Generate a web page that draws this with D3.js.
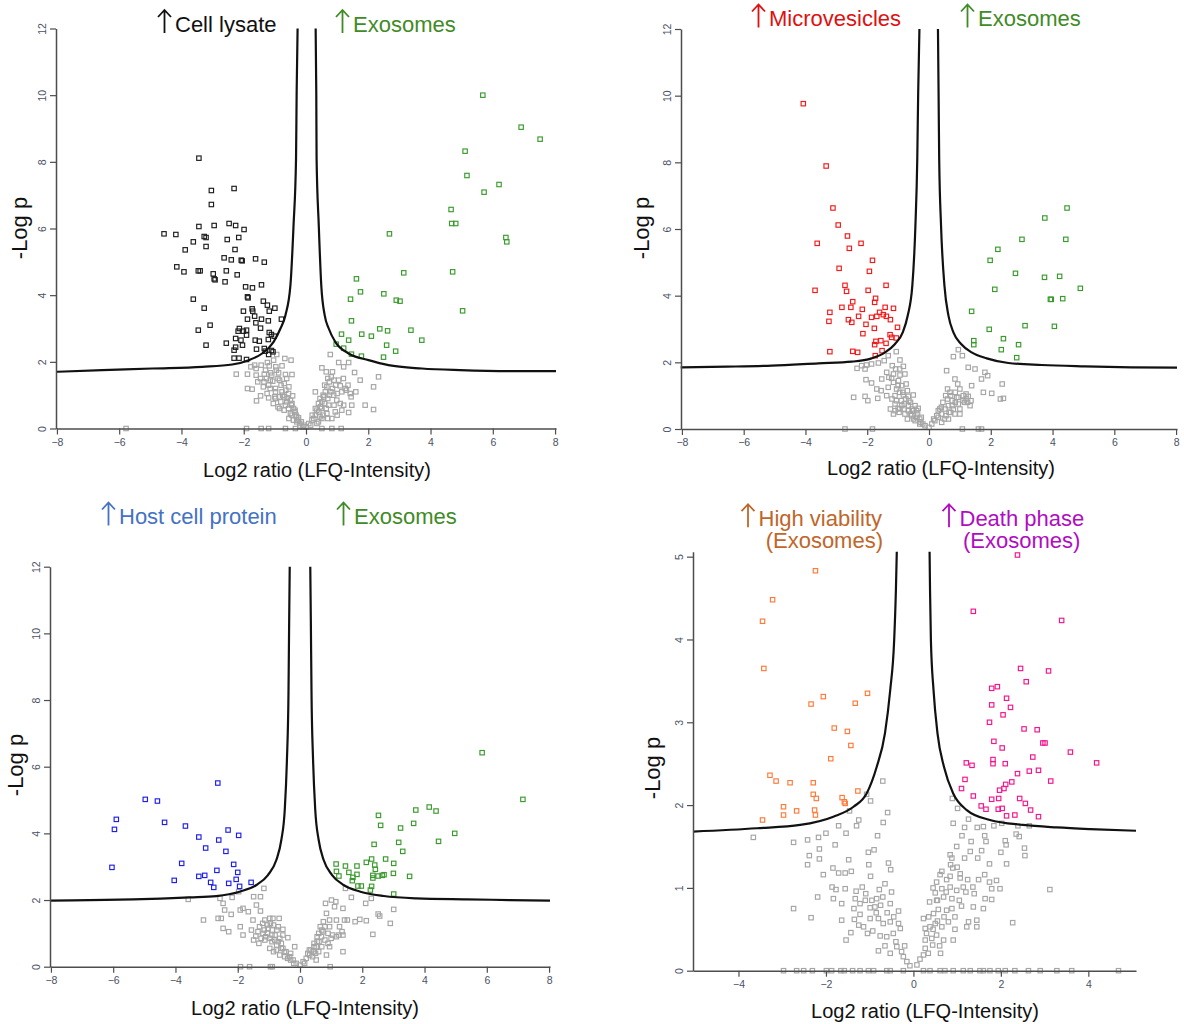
<!DOCTYPE html>
<html>
<head>
<meta charset="utf-8">
<script src="https://cdn.jsdelivr.net/npm/d3@7"></script>
<style>
  body { margin: 0; background: #fff; }
  svg { display: block; }
  text { font-family: "Liberation Sans", Arial, sans-serif; }
</style>
</head>
<body>
<script>
var w = 1184;
var h = 1024;

// tick values
var xTicks8 = [-8, -6, -4, -2, 0, 2, 4, 6, 8];
var yTicks12 = [0, 2, 4, 6, 8, 10, 12];
var xTicks4 = [-4, -2, 0, 2, 4];
var yTicks5 = [0, 1, 2, 3, 4, 5];

// labels
var panelTitles = [["Cell lysate", "Exosomes"], ["Microvesicles", "Exosomes"], ["Host cell protein", "Exosomes"], ["High viability", "Death phase"]];
var subTitle = "(Exosomes)";
var xLabel = "Log2 ratio (LFQ-Intensity)";
var yLabel = "-Log p";

// ---- panel 1: cell lysate vs exosomes ----
var p1CurveL = [[-8.03,1.70],[-6.54,1.75],[-4.94,1.80],[-3.33,1.85],[-2.37,1.92],[-1.84,2.05],[-1.41,2.25],[-1.04,2.6],[-0.82,3.0],[-0.66,3.4],[-0.50,4.3],[-0.40,6.1],[-0.32,8.1],[-0.30,10.1],[-0.27,12]];
var p1CurveR = [[0.31,12],[0.33,10.1],[0.34,8.1],[0.41,6.1],[0.49,4.3],[0.60,3.4],[0.73,3.0],[0.94,2.6],[1.37,2.25],[2.01,2.05],[2.65,1.90],[3.72,1.80],[4.95,1.75],[6.60,1.72],[8.03,1.72]];
var p1Down = [[-3.44,8.11],[-3.04,7.14],[-2.31,7.20],[-3.04,6.72],[-3.44,6.06],[-2.95,6.09],[-2.47,6.15],[-2.26,6.09],[-1.99,5.97],[-4.56,5.84],[-4.18,5.82],[-3.27,5.76],[-3.21,5.73],[-2.53,5.67],[-2.16,5.73],[-3.62,5.60],[-3.21,5.46],[-3.88,5.36],[-2.28,5.37],[-2.63,5.12],[-2.40,5.06],[-2.08,5.05],[-2.05,5.03],[-1.62,5.09],[-1.34,4.99],[-4.15,4.85],[-3.92,4.70],[-3.46,4.73],[-3.40,4.73],[-2.98,4.64],[-2.56,4.73],[-2.21,4.61],[-2.95,4.49],[-2.92,4.46],[-2.60,4.40],[-1.94,4.25],[-1.72,4.22],[-1.43,4.31],[-1.88,3.95],[-1.86,3.92],[-3.62,3.88],[-1.37,3.82],[-3.27,3.61],[-1.73,3.59],[-1.71,3.52],[-1.24,3.70],[-1.18,3.52],[-1.00,3.61],[-2.01,3.52],[-1.65,3.37],[-1.88,3.28],[-1.43,3.28],[-1.21,3.23],[-0.79,3.28],[-1.61,3.17],[-3.08,3.10],[-3.46,2.95],[-2.14,3.00],[-1.91,2.95],[-1.46,3.01],[-2.18,2.92],[-2.01,2.92],[-1.18,2.88],[-1.11,2.82],[-1.91,2.80],[-1.02,2.77],[-2.26,2.70],[-2.09,2.65],[-1.63,2.65],[-1.50,2.62],[-1.21,2.67],[-2.56,2.56],[-3.21,2.50],[-2.26,2.44],[-2.04,2.50],[-1.59,2.38],[-1.34,2.40],[-2.31,2.35],[-1.31,2.32],[-1.11,2.34],[-2.31,2.11],[-2.15,2.11],[-1.91,2.07],[-1.06,2.30],[-1.20,2.22]];
var p1Up = [[5.68,10.0],[6.91,9.04],[7.52,8.68],[5.11,8.32],[5.17,7.59],[6.20,7.32],[5.72,7.09],[4.66,6.57],[4.68,6.15],[4.81,6.15],[2.68,5.84],[6.42,5.73],[6.45,5.60],[3.14,4.67],[4.71,4.70],[1.62,4.49],[1.75,4.10],[2.50,4.04],[1.43,3.88],[2.90,3.85],[3.02,3.82],[5.03,3.53],[1.46,3.23],[1.14,2.83],[1.79,2.83],[2.37,2.99],[2.62,2.93],[3.37,2.95],[1.37,2.65],[2.10,2.77],[3.72,2.65],[0.97,2.53],[1.21,2.41],[2.59,2.50],[1.46,2.23],[1.78,2.17],[2.88,2.32],[2.49,2.14]];
var p1Gray = [[-0.94,2.22],[-0.68,2.10],[-1.04,2.05],[-1.24,1.98],[-1.44,1.90],[-1.65,1.90],[-1.77,1.85],[-1.60,1.80],[-1.18,1.88],[-0.97,1.85],[-0.77,1.88],[-0.48,2.05],[-2.24,1.63],[-1.88,1.63],[-1.34,1.63],[-1.14,1.67],[-0.88,1.67],[-0.66,1.62],[-0.45,1.62],[-1.46,1.50],[-1.27,1.50],[-1.07,1.42],[-0.85,1.45],[-0.62,1.50],[-1.88,1.20],[-1.73,1.18],[-1.37,1.25],[-1.20,1.30],[-0.98,1.20],[-0.77,1.10],[-0.56,1.05],[-0.43,0.98],[-1.59,0.83],[-1.46,0.98],[-1.20,0.92],[-0.98,0.90],[-0.81,0.80],[-0.62,0.80],[-0.47,0.70],[-0.56,0.60],[-0.36,0.50],[-0.32,0.40],[-0.24,0.32],[-0.15,0.20],[-0.07,0.10],[-0.98,1.10],[-0.69,0.95],[-0.66,0.70],[-0.50,0.45],[-0.9,1.5],[-0.8,1.3],[-0.75,1.0],[-0.6,0.9],[-0.55,1.25],[-0.5,0.85],[-0.45,0.75],[-0.4,0.6],[-0.35,0.55],[-0.3,0.35],[-0.25,0.25],[-0.2,0.15],[-1.1,1.6],[-1.3,1.75],[-0.95,1.75],[-1.0,0.95],[-0.85,0.6],[-1.55,1.4],[-1.35,1.4],[-1.15,1.2],[-1.25,1.05],[-1.05,0.75],[-0.9,0.65],[-0.7,0.55],[-0.55,0.3],[-0.4,0.25],[-0.65,1.15],[-0.7,1.35],[-0.85,0.95],[-1.15,1.45],[-1.6,1.6],[-0.45,0.4],[-0.3,0.2],[-0.2,0.08],[-0.1,0.05],[0,0.05],[0.09,0.15],[0.19,0.25],[0.30,0.40],[0.41,0.50],[0.46,0.65],[0.51,0.80],[0.57,0.95],[0.62,1.10],[0.67,1.25],[0.75,1.40],[0.81,1.55],[0.85,1.70],[0.51,1.82],[0.78,2.22],[1.05,1.98],[1.21,1.85],[1.37,1.98],[1.56,1.68],[1.74,1.45],[2.17,1.25],[2.33,1.55],[1.90,0.70],[2.17,0.57],[1.37,0.48],[1.47,0.70],[1.21,0.70],[1.10,1.28],[1.15,1.10],[1.26,1.20],[1.42,1.05],[0.99,0.85],[0.89,1.00],[0.73,0.70],[0.67,0.45],[0.51,0.30],[0.35,0.15],[0.30,1.10],[0.94,0.50],[0.83,0.30],[0.25,0.3],[0.35,0.55],[0.45,0.9],[0.55,1.0],[0.6,1.3],[0.7,1.5],[0.75,1.0],[0.85,1.2],[0.9,0.7],[1.0,1.05],[1.1,0.75],[1.3,1.15],[0.65,0.6],[0.55,0.4],[0.4,0.2],[0.15,0.1],[0.2,0.4],[0.3,0.6],[0.4,0.75],[0.5,0.6],[0.6,0.75],[0.7,0.9],[0.8,1.1],[0.95,1.3],[1.05,1.45],[1.2,1.5],[1.35,1.3],[1.45,0.95],[1.6,1.1],[0.65,1.7],[0.7,0.3],[0.45,0.35],[1.0,0.4],[1.15,0.55],[0.9,1.45],[-5.78,0],[-1.91,0],[-1.44,0],[-1.20,0],[-0.66,0],[-0.34,0],[0.51,0],[0.83,0],[1.13,0]];

// ---- panel 2: microvesicles vs exosomes ----
var p2CurveL = [[-8.04,1.85],[-6.55,1.87],[-5.09,1.90],[-3.58,1.97],[-2.50,2.02],[-1.86,2.12],[-1.42,2.30],[-1.10,2.55],[-0.85,2.9],[-0.69,3.4],[-0.54,4.3],[-0.44,6.1],[-0.38,8.1],[-0.35,10.1],[-0.31,12]];
var p2CurveR = [[0.29,12],[0.31,10.1],[0.33,8.1],[0.39,6.1],[0.50,4.3],[0.63,3.4],[0.79,2.9],[1.04,2.55],[1.38,2.30],[1.87,2.12],[2.57,1.98],[3.65,1.92],[5.05,1.88],[6.56,1.85],[8.03,1.84]];
var p2Down = [[-4.07,9.76],[-3.33,7.89],[-3.11,6.63],[-2.94,6.12],[-2.64,5.79],[-3.62,5.57],[-2.58,5.42],[-2.20,5.57],[-1.83,5.06],[-1.93,4.73],[-2.91,4.82],[-2.72,4.31],[-2.67,4.13],[-3.69,4.16],[-1.97,4.16],[-1.39,4.31],[-1.73,3.92],[-1.76,3.80],[-2.47,3.82],[-2.82,3.65],[-2.53,3.65],[-2.16,3.59],[-1.42,3.65],[-1.15,3.62],[-3.21,3.50],[-3.24,3.23],[-2.61,3.28],[-2.50,3.20],[-2.28,3.38],[-1.86,3.35],[-1.69,3.38],[-1.60,3.50],[-1.48,3.43],[-1.38,3.38],[-1.25,3.28],[-2.04,3.14],[-1.77,3.02],[-1.02,3.05],[-2.14,2.86],[-1.26,2.83],[-1.21,2.75],[-1.06,2.73],[-1.72,2.63],[-1.56,2.65],[-1.39,2.57],[-1.76,2.53],[-1.52,2.35],[-3.21,2.32],[-2.47,2.33],[-2.31,2.30],[-1.74,2.20]];
var p2Up = [[4.47,6.63],[3.75,6.33],[3.01,5.69],[4.43,5.69],[2.23,5.39],[1.98,5.06],[2.80,4.67],[3.74,4.55],[4.23,4.58],[4.90,4.22],[2.13,4.19],[3.93,3.89],[3.96,3.89],[4.33,3.91],[1.38,3.53],[3.11,3.10],[4.06,3.08],[1.95,2.99],[2.41,2.71],[1.45,2.65],[1.45,2.53],[2.90,2.53],[2.34,2.38],[2.84,2.14]];
var p2Gray = [[-1.06,2.32],[-1.32,2.20],[-0.94,2.07],[-1.45,2.05],[-1.64,1.98],[-1.86,1.95],[-2.02,1.92],[-2.18,1.90],[-2.33,1.82],[-2.07,1.80],[-1.19,1.90],[-1.08,1.80],[-0.83,1.88],[-1.37,1.70],[-1.15,1.65],[-0.94,1.62],[-0.78,1.65],[-1.53,1.50],[-1.21,1.52],[-0.99,1.45],[-2.04,1.48],[-1.86,1.38],[-1.69,1.20],[-1.55,1.15],[-1.32,1.25],[-1.05,1.20],[-0.88,1.30],[-0.74,1.35],[-2.44,0.95],[-2.07,0.98],[-1.98,0.85],[-1.66,0.92],[-1.37,1.00],[-1.10,1.00],[-0.83,1.02],[-0.67,0.98],[-0.51,1.02],[-1.10,0.75],[-0.88,0.70],[-0.67,0.70],[-0.45,0.70],[-1.15,0.45],[-0.97,0.50],[-0.78,0.45],[-0.56,0.40],[-0.37,0.45],[-0.45,0.25],[-0.26,0.20],[-0.13,0.10],[-0.67,0.55],[-0.35,0.62],[-0.9,0.85],[-0.75,0.9],[-0.6,0.8],[-0.55,0.6],[-0.8,0.6],[-1.0,0.62],[-0.5,0.3],[-0.3,0.3],[-0.7,1.15],[-0.95,1.1],[-1.25,0.6],[-1.1,0.55],[-0.95,0.6],[-0.8,0.75],[-0.65,0.85],[-0.5,0.55],[-0.4,0.35],[-0.25,0.35],[-0.2,0.15],[-1.05,0.85],[-1.2,0.9],[-0.85,1.1],[-0.6,0.45],[-0.7,0.3],[-1.0,1.3],[-1.3,1.55],[-0.95,1.8],[-1.15,1.4],[-0.4,0.55],[-0.3,0.15],[0.09,0.15],[0.19,0.25],[0.30,0.35],[0.41,0.45],[0.52,0.60],[0.63,0.70],[0.79,0.60],[0.95,0.75],[1.11,1.00],[1.27,0.98],[1.36,0.85],[1.33,0.70],[0.54,1.00],[0.68,1.10],[0.84,1.50],[0.93,1.35],[0.57,1.75],[0.79,2.17],[0.95,2.38],[1.08,2.20],[1.27,1.85],[1.49,1.80],[1.81,1.70],[1.90,1.60],[1.70,1.50],[1.38,1.30],[1.76,1.10],[2.03,1.07],[2.37,1.35],[2.41,0.92],[2.31,0.90],[0.63,0.30],[0.84,0.45],[1.00,0.45],[0.41,0.20],[0.25,0.4],[0.35,0.6],[0.45,0.8],[0.6,0.9],[0.7,0.5],[0.75,0.85],[0.9,0.95],[1.0,0.6],[1.15,0.8],[1.2,0.9],[0.5,0.3],[0.15,0.3],[0.3,0.55],[0.4,0.65],[0.55,0.4],[0.65,0.5],[0.75,0.7],[0.85,0.8],[0.95,0.95],[1.1,0.85],[1.25,0.8],[0.85,1.1],[1.0,1.2],[0.7,1.0],[0.6,1.2],[1.2,1.05],[1.08,0],[1.60,0],[1.70,0],[-2.72,0],[-1.83,0],[0,0.05]];

// ---- panel 3: host cell protein vs exosomes ----
var p3CurveL = [[-8.03,1.98],[-6.76,2.00],[-5.36,2.02],[-3.54,2.08],[-2.69,2.12],[-1.94,2.25],[-1.40,2.45],[-1.03,2.75],[-0.76,3.2],[-0.60,3.8],[-0.49,4.7],[-0.42,6.2],[-0.37,8.2],[-0.35,10.2],[-0.33,12]];
var p3CurveR = [[0.33,12],[0.35,10.2],[0.37,8.2],[0.42,6.2],[0.49,4.7],[0.60,3.8],[0.76,3.2],[1.03,2.75],[1.40,2.45],[1.94,2.25],[2.69,2.12],[3.74,2.05],[5.34,2.02],[6.73,2.00],[8.03,1.98]];
var p3Down = [[-2.64,5.51],[-4.97,5.02],[-4.58,4.97],[-5.90,4.42],[-5.96,4.12],[-4.35,4.33],[-3.68,4.22],[-3.25,3.89],[-2.31,4.10],[-1.97,3.94],[-2.61,3.80],[-3.03,3.56],[-2.38,3.46],[-6.04,2.98],[-3.80,3.10],[-2.13,3.07],[-2.67,2.89],[-2.00,2.83],[-3.25,2.71],[-3.06,2.74],[-4.04,2.59],[-2.05,2.62],[-2.87,2.53],[-2.29,2.50],[-1.57,2.53],[-1.94,2.41],[-2.77,2.38]];
var p3Up = [[5.85,6.42],[7.16,5.02],[4.15,4.79],[4.37,4.67],[3.72,4.70],[2.52,4.54],[2.59,4.24],[3.23,4.16],[3.65,4.30],[4.97,4.00],[4.45,3.76],[3.17,3.73],[2.38,3.67],[3.30,3.46],[2.30,3.23],[2.75,3.23],[2.13,3.13],[3.01,3.10],[1.16,3.08],[1.46,3.02],[1.83,3.02],[2.40,3.05],[2.42,2.92],[1.17,2.86],[1.25,2.72],[1.57,2.83],[1.83,2.77],[1.70,2.68],[2.34,2.74],[2.34,2.66],[2.51,2.72],[2.64,2.74],[2.70,2.76],[3.00,2.80],[3.52,2.71],[1.68,2.58],[1.86,2.42],[1.97,2.42],[2.30,2.41],[2.26,2.30],[3.01,2.18]];
var p3Gray = [[-3.59,2.02],[-3.10,1.40],[-2.57,2.05],[-2.47,1.90],[-2.42,1.70],[-2.63,1.45],[-2.53,1.45],[-2.47,1.15],[-2.29,1.05],[-2.21,1.57],[-2.18,2.08],[-1.97,2.25],[-1.92,1.70],[-1.83,1.75],[-1.66,1.65],[-1.92,1.20],[-1.83,0.95],[-1.51,1.40],[-1.56,1.10],[-1.49,2.10],[-1.40,1.85],[-1.27,2.10],[-1.27,1.67],[-1.16,2.35],[-1.30,1.20],[-1.13,1.40],[-0.97,1.45],[-0.87,1.45],[-0.67,1.45],[-1.42,0.92],[-1.19,1.00],[-1.03,1.15],[-0.89,1.10],[-0.74,1.10],[-0.55,1.12],[-1.49,0.80],[-1.32,0.70],[-1.13,0.80],[-0.97,0.85],[-0.81,0.80],[-0.65,0.85],[-0.39,0.87],[-0.17,0.60],[-0.97,0.55],[-0.76,0.50],[-0.55,0.55],[-0.65,0.35],[-0.49,0.30],[-0.33,0.30],[-0.22,0.20],[-0.12,0.10],[0,0.05],[-1.2,1.3],[-1.05,1.25],[-0.9,0.95],[-0.75,0.65],[-0.6,0.7],[-0.45,0.45],[-0.85,1.25],[-1.1,0.9],[-0.3,0.4],[-1.05,1.0],[-0.9,0.75],[-0.8,0.95],[-0.7,0.75],[-0.6,0.55],[-0.5,0.45],[-0.4,0.25],[-0.3,0.2],[-0.95,1.3],[-1.15,1.1],[-1.35,1.05],[-0.55,0.95],[-0.7,1.2],[-1.25,0.85],[-0.85,0.45],[-0.2,0.1],[0.10,0.15],[0.20,0.25],[0.31,0.35],[0.42,0.45],[0.52,0.60],[0.61,0.75],[0.69,0.90],[0.74,1.05],[0.65,1.20],[0.85,1.60],[0.82,1.90],[1.01,2.00],[1.15,1.95],[1.11,1.80],[0.95,1.20],[1.17,1.40],[1.27,1.20],[1.43,1.40],[1.17,0.90],[1.38,0.95],[1.52,1.40],[1.65,2.08],[1.46,2.35],[1.38,1.75],[1.77,1.35],[1.92,1.42],[2.13,1.38],[2.11,1.90],[2.29,2.05],[2.51,1.58],[2.56,1.52],[3.01,1.72],[2.90,1.30],[2.34,0.97],[1.38,0.45],[0.95,0.60],[0.85,0.35],[0.52,0.20],[0.3,0.5],[0.45,0.7],[0.55,0.9],[0.7,0.6],[0.8,0.8],[0.9,1.0],[1.0,0.85],[0.6,0.45],[0.15,0.1],[0.25,0.4],[0.35,0.5],[0.45,0.6],[0.55,0.75],[0.6,1.0],[0.7,1.1],[0.8,1.2],[0.9,0.7],[1.05,0.95],[1.25,0.95],[1.35,1.05],[0.75,1.35],[0.95,1.4],[0.4,0.3],[0.5,0.4],[-1.91,0],[-1.62,0],[-0.95,0],[-0.89,0],[0.97,0]];

// ---- panel 4: high viability vs death phase ----
var p4CurveL = [[-5.04,1.68],[-3.58,1.72],[-2.59,1.76],[-1.83,1.86],[-1.37,1.98],[-1.07,2.14],[-0.84,2.46],[-0.65,2.87],[-0.53,3.39],[-0.44,3.99],[-0.40,4.6],[-0.38,5.06]];
var p4CurveR = [[0.37,5.06],[0.38,4.6],[0.40,3.99],[0.46,3.39],[0.55,2.87],[0.70,2.46],[0.91,2.14],[1.22,1.94],[1.75,1.82],[2.51,1.76],[3.28,1.73],[4.04,1.71],[5.09,1.69]];
var p4Down = [[-2.24,4.83],[-3.22,4.48],[-3.45,4.22],[-3.42,3.65],[-2.06,3.31],[-1.05,3.35],[-2.34,3.22],[-1.33,3.23],[-1.81,2.93],[-1.51,2.89],[-1.43,2.72],[-1.89,2.56],[-3.28,2.36],[-3.14,2.29],[-2.82,2.27],[-2.29,2.27],[-1.27,2.17],[-2.29,2.13],[-2.22,2.08],[-1.63,2.09],[-1.58,2.04],[-1.56,2.02],[-2.97,1.98],[-2.67,1.93],[-2.26,1.94],[-3.45,1.82],[-2.97,1.88],[-2.24,1.88]];
var p4Up = [[2.38,5.02],[1.37,4.34],[3.39,4.23],[2.45,3.65],[3.09,3.62],[2.58,3.49],[1.79,3.41],[1.92,3.43],[2.13,3.29],[1.79,3.21],[2.22,3.18],[2.05,3.09],[1.74,3.00],[2.53,2.92],[2.83,2.91],[2.96,2.75],[3.01,2.75],[1.84,2.77],[3.59,2.64],[2.03,2.69],[2.73,2.58],[1.82,2.55],[1.82,2.50],[2.10,2.50],[4.19,2.51],[1.21,2.51],[1.34,2.48],[2.38,2.38],[2.65,2.41],[2.86,2.42],[1.18,2.31],[2.25,2.28],[3.14,2.29],[2.11,2.25],[2.07,2.20],[1.97,2.18],[1.10,2.20],[1.37,2.11],[1.79,2.07],[1.95,2.08],[2.43,2.08],[2.56,2.02],[1.55,1.99],[1.66,1.95],[1.94,1.95],[2.03,1.96],[2.68,1.94],[2.13,1.87],[2.32,1.88],[2.86,1.86]];
var p4Gray = [[-0.70,2.29],[-0.98,2.05],[-1.07,2.13],[-0.59,1.91],[-1.25,1.82],[-1.30,1.75],[-0.69,1.79],[-1.46,1.93],[-1.71,1.75],[-1.54,1.66],[-2.00,1.66],[-2.17,1.61],[-2.42,1.58],[-2.74,1.55],[-3.66,1.61],[-1.79,1.52],[-2.15,1.47],[-2.38,1.39],[-2.15,1.35],[-2.42,1.28],[-1.84,1.24],[-2.06,1.16],[-1.71,1.18],[-1.56,1.18],[-1.42,1.20],[-1.48,1.34],[-1.03,1.43],[-0.90,1.46],[-1.02,1.28],[-0.82,1.63],[-0.57,1.30],[-0.52,1.22],[-0.98,1.14],[-1.17,1.01],[-0.78,0.98],[-1.86,1.01],[-1.77,0.98],[-1.56,0.99],[-1.31,0.96],[-1.09,0.93],[-2.19,0.89],[-1.83,0.87],[-1.64,0.81],[-1.33,0.87],[-1.22,0.81],[-1.10,0.85],[-0.95,0.85],[-0.84,0.87],[-0.70,0.89],[-2.74,0.75],[-2.34,0.64],[-1.36,0.75],[-1.22,0.68],[-0.99,0.76],[-0.88,0.77],[-0.75,0.79],[-0.53,0.81],[-0.34,0.72],[-1.64,0.61],[-1.35,0.62],[-1.14,0.53],[-0.99,0.63],[-0.80,0.63],[-0.69,0.57],[-0.53,0.59],[-0.34,0.57],[-1.43,0.46],[-1.54,0.37],[-0.93,0.48],[-0.76,0.42],[-0.61,0.41],[-0.46,0.45],[-0.30,0.51],[-0.80,0.24],[-0.53,0.21],[-0.38,0.29],[-0.23,0.17],[-0.15,0.11],[-0.08,0.06],[-0.27,0.23],[-0.6,0.7],[-0.45,0.65],[-0.4,0.35],[-0.2,0.3],[-0.65,0.3],[-0.85,0.7],[-1.05,0.45],[-1.25,0.55],[-0.5,0.95],[-0.65,1.05],[0.08,0.07],[0.15,0.14],[0.23,0.19],[0.27,0.27],[0.34,0.21],[0.44,0.31],[0.27,0.37],[0.42,0.39],[0.53,0.43],[0.62,0.21],[0.69,0.37],[0.91,0.37],[0.27,0.51],[0.38,0.53],[0.50,0.57],[0.65,0.53],[0.80,0.59],[0.23,0.63],[0.46,0.69],[0.57,0.74],[0.76,0.73],[0.88,0.75],[1.22,0.53],[1.45,0.53],[1.26,0.59],[1.45,0.61],[2.27,0.58],[0.37,0.83],[0.53,0.85],[0.69,0.89],[0.88,0.87],[1.10,0.78],[1.37,0.77],[1.60,0.75],[1.64,0.87],[1.79,0.86],[0.50,0.94],[0.65,0.99],[0.84,1.01],[0.99,0.97],[1.14,1.01],[1.36,1.01],[1.39,0.93],[1.79,0.99],[1.98,0.99],[3.12,0.98],[0.53,1.07],[0.76,1.10],[1.07,1.12],[1.24,1.10],[1.49,1.10],[1.74,1.07],[1.90,1.09],[0.61,1.16],[0.84,1.14],[1.07,1.17],[1.63,1.16],[0.85,1.28],[0.90,1.24],[0.88,1.36],[0.84,1.40],[0.99,1.50],[1.17,1.36],[1.30,1.44],[1.47,1.36],[1.56,1.45],[1.74,1.29],[1.66,1.56],[1.32,1.56],[1.11,1.63],[1.17,1.73],[1.46,1.73],[1.63,1.63],[2.00,1.43],[2.13,1.29],[2.12,1.52],[2.10,1.57],[2.54,1.48],[2.55,1.39],[2.35,1.65],[2.42,1.62],[1.01,1.96],[0.91,1.78],[1.26,1.83],[1.60,1.74],[1.84,1.75],[2.02,1.78],[2.39,1.75],[2.65,1.75],[0.89,2.08],[0.3,0.45],[0.35,0.65],[0.45,0.5],[0.55,0.6],[0.6,0.3],[0.7,0.65],[0.75,0.95],[0.95,0.65],[1.05,0.85],[0.65,1.2],[0.55,0.85],[1.2,0.95],[1.0,1.25],[0.95,0.5],[0.45,1.0],[-2.97,0],[-2.67,0],[-2.51,0],[-2.31,0],[-1.99,0],[-1.87,0],[-1.66,0],[-1.58,0],[-1.39,0],[-1.22,0],[-1.03,0],[-0.91,0],[-0.61,0],[-0.53,0],[-0.23,0],[0.23,0],[0.38,0],[0.61,0],[0.72,0],[0.91,0],[1.14,0],[1.30,0],[1.52,0],[1.60,0],[1.75,0],[1.94,0],[2.10,0],[2.32,0],[2.63,0],[2.90,0],[3.28,0],[3.62,0],[4.69,0]];

//Panel layout: scales, label spots and colours
var panels = [
	{ xDom: [-8.03, 8.03], xRng: [56, 556], yDom: [0, 12], yRng: [428.5, 28.5], xTicks: xTicks8, yTicks: yTicks12,
	  curveL: p1CurveL, curveR: p1CurveR, gray: p1Gray, down: p1Down, up: p1Up,
	  downColor: "#1c1c1c", upColor: "#3a9a2e", yLab: [19, 228], xLab: [317, 477] },
	{ xDom: [-8.03, 8.03], xRng: [681, 1177], yDom: [0, 12], yRng: [429, 29], xTicks: xTicks8, yTicks: yTicks12,
	  curveL: p2CurveL, curveR: p2CurveR, gray: p2Gray, down: p2Down, up: p2Up,
	  downColor: "#f21b1b", upColor: "#3a9a2e", yLab: [641, 228], xLab: [941, 475] },
	{ xDom: [-8.03, 8.03], xRng: [50, 550], yDom: [0, 12], yRng: [966.7, 566.7], xTicks: xTicks8, yTicks: yTicks12,
	  curveL: p3CurveL, curveR: p3CurveR, gray: p3Gray, down: p3Down, up: p3Up,
	  downColor: "#1f1fe8", upColor: "#3a9a2e", yLab: [15, 765], xLab: [305, 1015] },
	{ xDom: [-5.04, 5.09], xRng: [693, 1136], yDom: [0, 5.06], yRng: [970.7, 551.7], xTicks: xTicks4, yTicks: yTicks5,
	  curveL: p4CurveL, curveR: p4CurveR, gray: p4Gray, down: p4Down, up: p4Up,
	  downColor: "#ff7a3a", upColor: "#f5158c", yLab: [652, 768], xLab: [925, 1018] }
];

var svg = d3.select("body")
			.append("svg")
			.attr("width", w)
			.attr("height", h);

var sq = 4.4;
var labelFont = "Lato, 'Liberation Sans', sans-serif";

panels.forEach(function(p) {
	var xScale = d3.scaleLinear().domain(p.xDom).range(p.xRng);
	var yScale = d3.scaleLinear().domain(p.yDom).range(p.yRng);
	var g = svg.append("g");

	//points: grey first, then the significant ones on top
	var sets = [[p.gray, "#a5a5a5"], [p.down, p.downColor], [p.up, p.upColor]];
	sets.forEach(function(s) {
		g.append("g").selectAll("rect")
		 .data(s[0])
		 .enter()
		 .append("rect")
		 .attr("x", function(d) { return xScale(d[0]) - sq / 2; })
		 .attr("y", function(d) { return yScale(d[1]) - sq / 2; })
		 .attr("width", sq)
		 .attr("height", sq)
		 .attr("fill", "none")
		 .attr("stroke", s[1])
		 .attr("stroke-width", 1.15);
	});

	//significance curve, two branches
	var line = d3.line()
				 .x(function(d) { return xScale(d[0]); })
				 .y(function(d) { return yScale(d[1]); })
				 .curve(d3.curveMonotoneX);
	[p.curveL, p.curveR].forEach(function(c) {
		g.append("path")
		 .attr("d", line(c))
		 .attr("fill", "none")
		 .attr("stroke", "#111")
		 .attr("stroke-width", 2.2);
	});

	//X axis
	var xAxis = d3.axisBottom(xScale).tickValues(p.xTicks).tickSize(6).tickSizeOuter(0).tickPadding(4)
				  .tickFormat(d3.format("d"));
	var gx = g.append("g")
			  .attr("transform", "translate(0," + p.yRng[0] + ")")
			  .call(xAxis);
	gx.selectAll("text").attr("font-size", "10.5px").attr("fill", "#4a5064")
	  .attr("font-family", "Liberation Sans, Arial, sans-serif");

	//Y axis, labels turned on their side
	var yAxis = d3.axisLeft(yScale).tickValues(p.yTicks).tickSize(6).tickSizeOuter(0)
				  .tickFormat(d3.format("d"));
	var gy = g.append("g")
			  .attr("transform", "translate(" + p.xRng[0] + ",0)")
			  .call(yAxis);
	gy.selectAll("text")
	  .attr("x", null).attr("dy", null)
	  .attr("text-anchor", "middle")
	  .attr("transform", "translate(-9.8,0) rotate(-90)")
	  .attr("font-size", "10.5px").attr("fill", "#4a5064")
	  .attr("font-family", "Liberation Sans, Arial, sans-serif");

	[gx, gy].forEach(function(a) {
		a.select(".domain").attr("stroke", "#4d4d4d").attr("stroke-width", 1.5);
		a.selectAll(".tick line").attr("stroke", "#4d4d4d").attr("stroke-width", 1.2);
	});

	g.append("text")
	 .text(xLabel)
	 .attr("x", p.xLab[0])
	 .attr("y", p.xLab[1])
	 .attr("text-anchor", "middle")
	 .attr("font-family", labelFont)
	 .attr("font-size", "20px")
	 .attr("fill", "#111");

	g.append("text")
	 .text(yLabel)
	 .attr("transform", "translate(" + (p.yLab[0] + 7.5) + "," + p.yLab[1] + ") rotate(-90)")
	 .attr("text-anchor", "middle")
	 .attr("font-family", labelFont)
	 .attr("font-size", "22px")
	 .attr("fill", "#111");
});

//Titles above each panel: thin arrow then the label
function title(x, y, color, label) {
	svg.append("path")
	   .attr("d", "M" + (x + 6.5) + "," + (y + 1.5) + "V" + (y - 21.5) +
				  "M" + x + "," + (y - 14.5) + "L" + (x + 6.5) + "," + (y - 21.5) + "L" + (x + 13) + "," + (y - 14.5))
	   .attr("fill", "none")
	   .attr("stroke", color)
	   .attr("stroke-width", 1.8);
	svg.append("text")
	   .text(label)
	   .attr("x", x + 17)
	   .attr("y", y)
	   .attr("font-size", "22px")
	   .attr("fill", color);
}
var titleSpots = [
	[[158, 31.5, "#111111"], [336, 31.5, "#3f8b26"]],
	[[752, 26, "#e01010"], [961, 26, "#3f8b26"]],
	[[102, 524, "#4472c4"], [337, 524, "#3f8b26"]],
	[[741.5, 525.7, "#c0662a"], [942.5, 525.7, "#b10cc2"]]
];
titleSpots.forEach(function(spots, i) {
	spots.forEach(function(s, j) {
		title(s[0], s[1], s[2], panelTitles[i][j]);
	});
});
svg.append("text").text(subTitle)
   .attr("x", 883).attr("y", 548.3).attr("text-anchor", "end")
   .attr("font-size", "22px").attr("fill", "#c0662a");
svg.append("text").text(subTitle)
   .attr("x", 963).attr("y", 548.3)
   .attr("font-size", "22px").attr("fill", "#b10cc2");
</script>
</body>
</html>
